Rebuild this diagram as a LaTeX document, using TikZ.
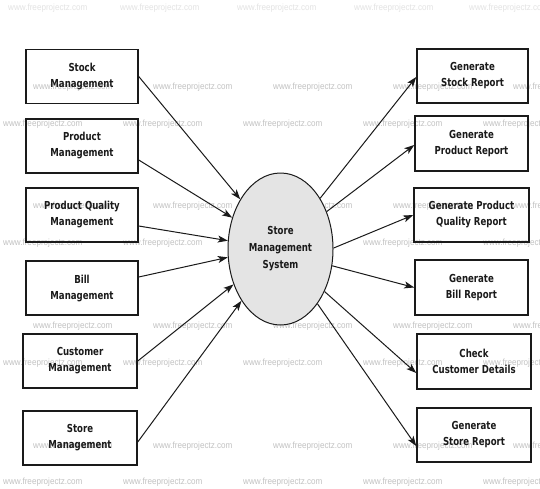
\documentclass[tikz,border=0pt]{standalone}
\usepackage{fontspec}
\usetikzlibrary{shapes.geometric,arrows.meta,calc}
\newfontfamily\lblfont{DejaVu Sans}[FakeStretch=0.78]
\newfontfamily\wmfont{Liberation Sans}[FakeStretch=0.9]
\definecolor{inkgray}{HTML}{1A1A1A}
\definecolor{wmgray}{HTML}{C2C2C2}
\definecolor{sysfill}{HTML}{E4E4E4}
\begin{document}
\begin{tikzpicture}[x=1pt,y=-1pt,
  box/.style={draw=inkgray, line width=1.5pt, minimum width=112pt, minimum height=54pt,
    inner sep=0pt, align=center, text=inkgray,
    font=\lblfont\bfseries\fontsize{11}{16}\selectfont},
  proc/.style={ellipse, draw=inkgray, fill=sysfill, line width=1pt, minimum width=105pt,
    minimum height=152pt, inner sep=0pt, align=center, text=inkgray,
    font=\lblfont\bfseries\fontsize{11}{17}\selectfont},
  flow/.style={draw=inkgray, line width=1pt, -{Stealth[length=10pt,width=7pt,inset=2.5pt]}},
  wm/.style={anchor=west, inner sep=0pt, text=wmgray, font=\wmfont\fontsize{9}{9}\selectfont},
  wmtop/.style={wm, text=wmgray!45}]
\fill[white] (0,0) rectangle (540,488);
\useasboundingbox (0,0) rectangle (540,488);

% background watermark rows
\foreach \x/\k in {8/1,120/2,237/3,354/4,469/5}
  \node[wmtop] (wt\k) at (\x,8) {www.freeprojectz.com};
\foreach \y/\r in {87/1,206/2,326/3,446/4}
  \foreach \x/\k in {33/1,153/2,273/3,393/4,513/5}
    \node[wm] (wa\r\k) at (\x,\y) {www.freeprojectz.com};
\foreach \y/\r in {124/1,243/2,363/3,482/4}
  \foreach \x/\k in {3/1,123/2,243/3,363/4,483/5}
    \node[wm] (wb\r\k) at (\x,\y) {www.freeprojectz.com};

% central process
\node[proc] (sys) at (280.5,249) {Store\\Management\\System};

% input boxes
\node[box] (sm)  at (82,76.5) {Stock\\Management};
\node[box] (pm)  at (82,146)  {Product\\Management};
\node[box] (pqm) at (82,215)  {Product Quality\\Management};
\node[box] (bm)  at (82,288)  {Bill\\Management};
\node[box, minimum width=114pt] (cm)  at (80,361) {Customer\\Management};
\node[box, minimum width=114pt] (stm) at (80,438) {Store\\Management};

% report boxes
\node[box, minimum width=111pt] (rs)  at (472.5,76)    {Generate\\Stock Report};
\node[box, minimum width=113pt, minimum height=55pt] (rp)  at (471.5,143.5) {Generate\\Product Report};
\node[box, minimum width=115pt] (rpq) at (471.5,215)   {Generate Product\\Quality Report};
\node[box, minimum width=113pt, minimum height=55pt] (rb)  at (471.5,287.5) {Generate\\Bill Report};
\node[box, minimum width=114pt, minimum height=55pt] (cc)  at (474,361.5)   {Check\\Customer Details};
\node[box, minimum width=114pt] (rst) at (474,435)     {Generate\\Store Report};

% flows into the system
\draw[flow] (sm.east) -- (sys.129.3);
\draw[flow] ($(pm.east)+(0,14)$) -- (sys.147.4);
\draw[flow] ($(pqm.east)+(0,11)$) -- (sys.171.3);
\draw[flow] ($(bm.east)+(0,-11)$) -- (sys.189.7);
\draw[flow] (cm.east) -- (sys.217.9);
\draw[flow] ($(stm.east)+(0,4)$) -- (sys.233.1);

% flows out of the system
\draw[flow] (sys.52.2) -- ($(rs.west)+(0,1)$);
\draw[flow] (sys.39.7) -- ($(rp.west)+(0,1.5)$);
\draw[flow] (sys.1) -- (rpq.west);
\draw[flow] (sys.342) -- (rb.west);
\draw[flow] (sys.316) -- ($(cc.west)+(0,11.5)$);
\draw[flow] (sys.304.8) -- ($(rst.west)+(0,11)$);
\end{tikzpicture}
\end{document}
